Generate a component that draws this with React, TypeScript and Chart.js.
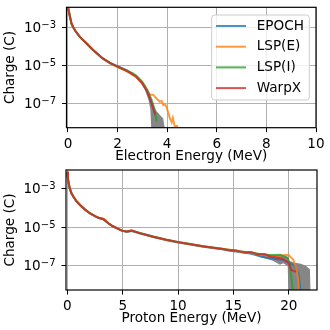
import React, { useEffect, useRef } from "react";
import { Chart, registerables } from "chart.js";

Chart.register(...registerables);

const FONT = '"DejaVu Sans", sans-serif';
const FS = 13.6;
const SUP_FS = 10;

const seriesNames = ["EPOCH", "LSP(E)", "LSP(I)", "WarpX"];
const seriesColors = [
  "rgba(31,119,180,0.8)",
  "rgba(255,127,14,0.8)",
  "rgba(44,160,44,0.8)",
  "rgba(214,39,40,0.8)",
];
const bandColor = "rgba(128,128,128,0.95)";

const chargeTicks = [1e-7, 1e-5, 1e-3];
const chargeTickBase = "10";
const chargeTickExponents = ["\u22127", "\u22125", "\u22123"];

const electronTicks = [0, 2, 4, 6, 8, 10];
const protonTicks = [0, 5, 10, 15, 20];

// ---------- Electron spectra ----------
const epochElectronEnergy = [0, 0.08, 0.14, 0.2, 0.3, 0.47, 0.74, 1.0, 1.4, 1.7, 2.0, 2.2, 2.4, 2.75, 3.0, 3.2, 3.37, 3.52];
const epochElectronCharge = [1.12e-2, 3.6e-3, 1.6e-3, 1.07e-3, 6.3e-4, 3.2e-4, 1.45e-4, 6.5e-5, 2.3e-5, 1.35e-5, 9e-6, 6.9e-6, 5.3e-6, 2.6e-6, 1.15e-6, 4.2e-7, 1.1e-7, 2.5e-8];

const lspeElectronEnergy = [0, 0.08, 0.14, 0.2, 0.3, 0.47, 0.74, 1.0, 1.4, 1.7, 2.0, 2.35, 2.75, 3.0, 3.2, 3.3, 3.44, 3.57, 3.71, 3.78, 3.84, 3.92, 3.98, 4.05, 4.11, 4.18, 4.23, 4.3, 4.44];
const lspeElectronCharge = [1.12e-2, 3.6e-3, 1.6e-3, 1.07e-3, 6.3e-4, 3.2e-4, 1.45e-4, 6.5e-5, 2.25e-5, 1.25e-5, 8.0e-6, 5.0e-6, 2.4e-6, 1.1e-6, 4.4e-7, 2.9e-7, 2.75e-7, 1.8e-7, 1.2e-7, 1.3e-7, 8e-8, 8.5e-8, 6e-8, 3e-8, 1.6e-8, 1.0e-8, 1.7e-8, 6.3e-9, 6.3e-9];

const lspiElectronEnergy = [0, 0.08, 0.14, 0.2, 0.3, 0.47, 0.74, 1.0, 1.4, 1.7, 2.0, 2.35, 2.6, 2.75, 3.0, 3.2, 3.37, 3.5, 3.57];
const lspiElectronCharge = [1.12e-2, 3.6e-3, 1.6e-3, 1.07e-3, 6.3e-4, 3.2e-4, 1.45e-4, 6.5e-5, 2.3e-5, 1.3e-5, 8.5e-6, 5.3e-6, 3.9e-6, 2.9e-6, 1.35e-6, 5e-7, 1.5e-7, 4.5e-8, 1.1e-8];

const warpxElectronEnergy = [0, 0.08, 0.14, 0.2, 0.3, 0.47, 0.74, 1.0, 1.4, 1.7, 2.0, 2.35, 2.75, 3.0, 3.2, 3.37, 3.5, 3.55];
const warpxElectronCharge = [1.12e-2, 3.6e-3, 1.6e-3, 1.07e-3, 6.3e-4, 3.2e-4, 1.45e-4, 6.5e-5, 2.3e-5, 1.3e-5, 8.5e-6, 5.2e-6, 2.5e-6, 1.1e-6, 4.0e-7, 1.0e-7, 2.9e-8, 2.9e-8];

const electronBandEnergy = [2.7, 2.9, 3.1, 3.24, 3.32, 3.4, 3.5, 3.6, 3.7, 3.84, 3.91];
const electronBandUpper = [2.8e-6, 1.8e-6, 8.9e-7, 4e-7, 2.3e-7, 1.2e-7, 5e-8, 3.5e-8, 2.5e-8, 1.6e-8, 4e-9];
const electronBandLower = [2.5e-6, 1.4e-6, 5e-7, 1.6e-7, 5e-8, 3e-10, 3e-10, 3e-10, 3e-10, 3e-10, 3e-10];

// ---------- Proton spectra ----------
const epochProtonEnergy = [0, 0.06, 0.18, 0.35, 0.54, 0.8, 1.14, 1.6, 2.05, 2.5, 2.8, 3.25, 3.7, 4.1, 4.45, 4.9, 5.35, 5.8, 6.55, 7.75, 8.95, 10, 11, 12.25, 13.5, 14.5, 15.5, 16.5, 17.5, 18.3, 19.5, 20.0, 20.5, 20.85, 21.0, 21.05];
const epochProtonCharge = [7.9e-3, 3.2e-3, 1.32e-3, 6.3e-4, 4.0e-4, 2.4e-4, 1.45e-4, 8.3e-5, 5.2e-5, 3.8e-5, 3.1e-5, 2.6e-5, 1.6e-5, 1.12e-5, 8.9e-6, 6.6e-6, 5.7e-6, 6.3e-6, 4.7e-6, 3.1e-6, 2.1e-6, 1.6e-6, 1.28e-6, 9.6e-7, 7.6e-7, 6.2e-7, 5.1e-7, 4.2e-7, 2.9e-7, 2.4e-7, 1.9e-7, 1.4e-7, 1.0e-7, 4e-8, 1e-8, 1e-9];

const lspeProtonEnergy = [0, 0.06, 0.18, 0.35, 0.54, 0.8, 1.14, 1.6, 2.05, 2.5, 2.8, 3.25, 3.5, 3.7, 4.1, 4.45, 4.9, 5.35, 5.8, 6.55, 7.75, 8.95, 10, 11, 12.25, 13.5, 14.5, 15.5, 16.5, 17.5, 18.3, 19.0, 19.95, 20.4, 20.7, 20.85, 20.95];
const lspeProtonCharge = [7.9e-3, 3.2e-3, 1.32e-3, 6.3e-4, 4.0e-4, 2.4e-4, 1.45e-4, 8.3e-5, 5.2e-5, 3.8e-5, 3.2e-5, 2.8e-5, 2.3e-5, 1.6e-5, 1.12e-5, 8.9e-6, 6.6e-6, 6.0e-6, 6.8e-6, 4.9e-6, 3.2e-6, 2.2e-6, 1.66e-6, 1.3e-6, 1.0e-6, 7.6e-7, 6.8e-7, 5.3e-7, 4.6e-7, 3.6e-7, 3.1e-7, 3.2e-7, 3.6e-7, 2e-7, 6.3e-8, 1.8e-8, 1e-9];

const lspiProtonEnergy = [0, 0.06, 0.18, 0.35, 0.54, 0.8, 1.14, 1.6, 2.05, 2.5, 2.8, 3.25, 3.7, 4.1, 4.45, 4.9, 5.35, 5.8, 6.55, 7.75, 8.95, 10, 11, 12.25, 13.5, 14.5, 15.5, 16.5, 17.5, 18.3, 19.2, 19.9, 20.1, 20.3, 20.4];
const lspiProtonCharge = [7.9e-3, 3.2e-3, 1.32e-3, 6.3e-4, 4.0e-4, 2.4e-4, 1.5e-4, 8.6e-5, 5.4e-5, 3.8e-5, 3.1e-5, 2.6e-5, 1.6e-5, 1.15e-5, 9.1e-6, 6.8e-6, 5.9e-6, 6.6e-6, 5.0e-6, 3.3e-6, 2.2e-6, 1.7e-6, 1.35e-6, 1.02e-6, 8.1e-7, 6.7e-7, 5.5e-7, 4.7e-7, 3.8e-7, 3.5e-7, 3.6e-7, 2.5e-7, 1e-7, 1e-8, 1e-9];

const warpxProtonEnergy = [0, 0.06, 0.18, 0.35, 0.54, 0.8, 1.14, 1.6, 2.05, 2.5, 2.8, 3.25, 3.7, 4.1, 4.45, 4.9, 5.35, 5.8, 6.55, 7.75, 8.95, 10, 11, 12.25, 13.5, 14.0, 14.6, 15.2, 16.0, 16.6, 17.2, 17.8, 18.3, 19.0, 19.5, 19.95, 20.25, 20.65];
const warpxProtonCharge = [7.9e-3, 3.2e-3, 1.32e-3, 6.3e-4, 4.0e-4, 2.4e-4, 1.45e-4, 8.3e-5, 5.2e-5, 3.8e-5, 3.1e-5, 2.6e-5, 1.6e-5, 1.12e-5, 8.9e-6, 6.6e-6, 5.9e-6, 6.6e-6, 4.9e-6, 3.2e-6, 2.2e-6, 1.66e-6, 1.32e-6, 1.0e-6, 7.9e-7, 7.4e-7, 6.0e-7, 6.2e-7, 4.7e-7, 5.0e-7, 3.8e-7, 4.0e-7, 2.95e-7, 2.5e-7, 2.1e-7, 1.4e-7, 5.6e-8, 4.7e-8];

const protonBandEnergy = [16.0, 16.8, 17.5, 18.5, 19.2, 19.5, 19.9, 20.0, 20.5, 21.0, 21.5, 21.9, 22.0];
const protonBandUpper = [5.2e-7, 4.6e-7, 4e-7, 3.5e-7, 3.5e-7, 3.2e-7, 2.8e-7, 1.8e-7, 1.4e-7, 1.26e-7, 1e-7, 6.3e-8, 3e-10];
const protonBandLower = [5e-7, 3.8e-7, 2.6e-7, 1.8e-7, 1.1e-7, 1.3e-7, 9e-8, 3e-10, 3e-10, 3e-10, 3e-10, 3e-10, 3e-10];

type Series = { energy: number[]; charge: number[] };

const toPoints = (x: number[], y: number[]) => x.map((v, i) => ({ x: v, y: y[i] }));

const framePlugin = {
  id: "frame",
  afterDatasetsDraw(chart: any) {
    const { ctx, chartArea } = chart;
    ctx.save();
    ctx.strokeStyle = "#000";
    ctx.lineWidth = 1.2;
    ctx.strokeRect(chartArea.left, chartArea.top, chartArea.right - chartArea.left, chartArea.bottom - chartArea.top);
    ctx.restore();
  },
};

const powerLabelPlugin = {
  id: "powerLabels",
  afterDraw(chart: any) {
    const { ctx, chartArea, scales } = chart;
    const ys = scales.y;
    ctx.save();
    ctx.fillStyle = "#000";
    ctx.textAlign = "right";
    ctx.textBaseline = "alphabetic";
    chargeTicks.forEach((v, i) => {
      const y = ys.getPixelForValue(v);
      const right = chartArea.left - 10.5;
      const sup = chargeTickExponents[i];
      ctx.font = `${SUP_FS}px ${FONT}`;
      const supW = ctx.measureText(sup).width;
      ctx.fillText(sup, right, y + 0.4);
      ctx.font = `${FS}px ${FONT}`;
      ctx.fillText(chargeTickBase, right - supW, y + 4.4);
    });
    ctx.restore();
  },
};

const legendPlugin = {
  id: "boxLegend",
  afterDraw(chart: any) {
    const { ctx, chartArea } = chart;
    const left = chartArea.right - 104.3;
    const top = chartArea.top + 7.7;
    const w = 97.6;
    const h = 85;
    ctx.save();
    ctx.beginPath();
    (ctx as any).roundRect(left, top, w, h, 3);
    ctx.fillStyle = "rgba(255,255,255,0.8)";
    ctx.fill();
    ctx.strokeStyle = "#cccccc";
    ctx.lineWidth = 1;
    ctx.stroke();
    ctx.font = `${FS}px ${FONT}`;
    ctx.textAlign = "left";
    ctx.textBaseline = "middle";
    seriesNames.forEach((name, i) => {
      const y = top + 11 + i * 20.7;
      ctx.strokeStyle = seriesColors[i];
      ctx.lineWidth = 2;
      ctx.beginPath();
      ctx.moveTo(left + 4.3, y);
      ctx.lineTo(left + 34.3, y);
      ctx.stroke();
      ctx.fillStyle = "#000";
      ctx.fillText(name, left + 45, y);
    });
    ctx.restore();
  },
};

type Props = {
  series: Series[];
  bandEnergy: number[];
  bandUpper: number[];
  bandLower: number[];
  xMin: number;
  xMax: number;
  xTicks: number[];
  yMin: number;
  yMax: number;
  xTitle: string;
  top: number;
  pad: { top: number; right: number; bottom: number };
  yWidth: number;
  xHeight: number;
  xTitlePad: number;
  legend: boolean;
};

function SpectrumChart(p: Props) {
  const ref = useRef<HTMLCanvasElement>(null);
  useEffect(() => {
    if (!ref.current) return;
    const datasets: any[] = [
      {
        label: "band-lower",
        data: toPoints(p.bandEnergy, p.bandLower),
        borderWidth: 0,
        borderColor: "rgba(0,0,0,0)",
        pointRadius: 0,
        fill: false,
        order: 10,
      },
      {
        label: "band-upper",
        data: toPoints(p.bandEnergy, p.bandUpper),
        borderWidth: 0,
        borderColor: "rgba(0,0,0,0)",
        backgroundColor: bandColor,
        pointRadius: 0,
        fill: "-1",
        order: 10,
      },
      ...p.series.map((s, i) => ({
        label: seriesNames[i],
        data: toPoints(s.energy, s.charge),
        borderColor: seriesColors[i],
        borderWidth: 2,
        pointRadius: 0,
        fill: false,
        tension: 0,
        order: 4 - i,
      })),
    ];
    const chart = new Chart(ref.current, {
      type: "line",
      data: { datasets },
      options: {
        animation: false,
        responsive: false,
        events: [],
        layout: { padding: { top: p.pad.top, right: p.pad.right, bottom: p.pad.bottom, left: 0 } },
        plugins: { legend: { display: false }, tooltip: { enabled: false } },
        scales: {
          x: {
            type: "linear",
            min: p.xMin,
            max: p.xMax,
            bounds: "data",
            afterBuildTicks: (s: any) => {
              s.ticks = p.xTicks.map((v) => ({ value: v }));
            },
            afterFit: (s: any) => {
              s.height = p.xHeight;
            },
            ticks: {
              color: "#000",
              font: { family: FONT, size: FS },
              padding: 4,
              maxRotation: 0,
              autoSkip: false,
              callback: (v: any) => String(v),
            },
            grid: { color: "#b0b0b0", lineWidth: 1, tickColor: "#000", tickLength: 4.5, tickWidth: 1 },
            border: { display: false },
            title: {
              display: true,
              text: p.xTitle,
              color: "#000",
              font: { family: FONT, size: FS },
              padding: { top: 0, bottom: p.xTitlePad },
            },
          },
          y: {
            type: "logarithmic",
            min: p.yMin,
            max: p.yMax,
            bounds: "data",
            afterBuildTicks: (s: any) => {
              s.ticks = chargeTicks.map((v) => ({ value: v }));
            },
            afterFit: (s: any) => {
              s.width = p.yWidth;
            },
            ticks: { display: false },
            grid: { color: "#b0b0b0", lineWidth: 1, tickColor: "#000", tickLength: 4.5, tickWidth: 1 },
            border: { display: false },
            title: {
              display: true,
              text: "Charge (C)",
              color: "#000",
              font: { family: FONT, size: FS },
              padding: { top: 2.5, bottom: 0 },
            },
          },
        },
      } as any,
      plugins: p.legend ? [framePlugin, powerLabelPlugin, legendPlugin] : [framePlugin, powerLabelPlugin],
    });
    return () => chart.destroy();
  }, []);
  return (
    <canvas
      ref={ref}
      width={330}
      height={165}
      style={{ position: "absolute", left: 0, top: p.top, width: 330, height: 165, display: "block" }}
    />
  );
}

export default function App() {
  const electronSeries: Series[] = [
    { energy: epochElectronEnergy, charge: epochElectronCharge },
    { energy: lspeElectronEnergy, charge: lspeElectronCharge },
    { energy: lspiElectronEnergy, charge: lspiElectronCharge },
    { energy: warpxElectronEnergy, charge: warpxElectronCharge },
  ];
  const protonSeries: Series[] = [
    { energy: epochProtonEnergy, charge: epochProtonCharge },
    { energy: lspeProtonEnergy, charge: lspeProtonCharge },
    { energy: lspiProtonEnergy, charge: lspiProtonCharge },
    { energy: warpxProtonEnergy, charge: warpxProtonCharge },
  ];
  return (
    <div style={{ position: "fixed", left: 0, top: 0, width: 330, height: 330, background: "#fff" }}>
      <SpectrumChart
        series={electronSeries}
        bandEnergy={electronBandEnergy}
        bandUpper={electronBandUpper}
        bandLower={electronBandLower}
        xMin={-0.06}
        xMax={10}
        xTicks={electronTicks}
        yMin={5.2e-9}
        yMax={1.12e-2}
        xTitle="Electron Energy (MeV)"
        top={0}
        pad={{ top: 7.3, right: 14, bottom: 0 }}
        yWidth={66.5}
        xHeight={37.3}
        xTitlePad={0}
        legend={true}
      />
      <SpectrumChart
        series={protonSeries}
        bandEnergy={protonBandEnergy}
        bandUpper={protonBandUpper}
        bandLower={protonBandLower}
        xMin={-0.12}
        xMax={22.54}
        xTicks={protonTicks}
        yMin={5.2e-9}
        yMax={9.8e-3}
        xTitle="Proton Energy (MeV)"
        top={165}
        pad={{ top: 5, right: 13, bottom: 0 }}
        yWidth={66}
        xHeight={40}
        xTitlePad={3}
        legend={false}
      />
    </div>
  );
}
